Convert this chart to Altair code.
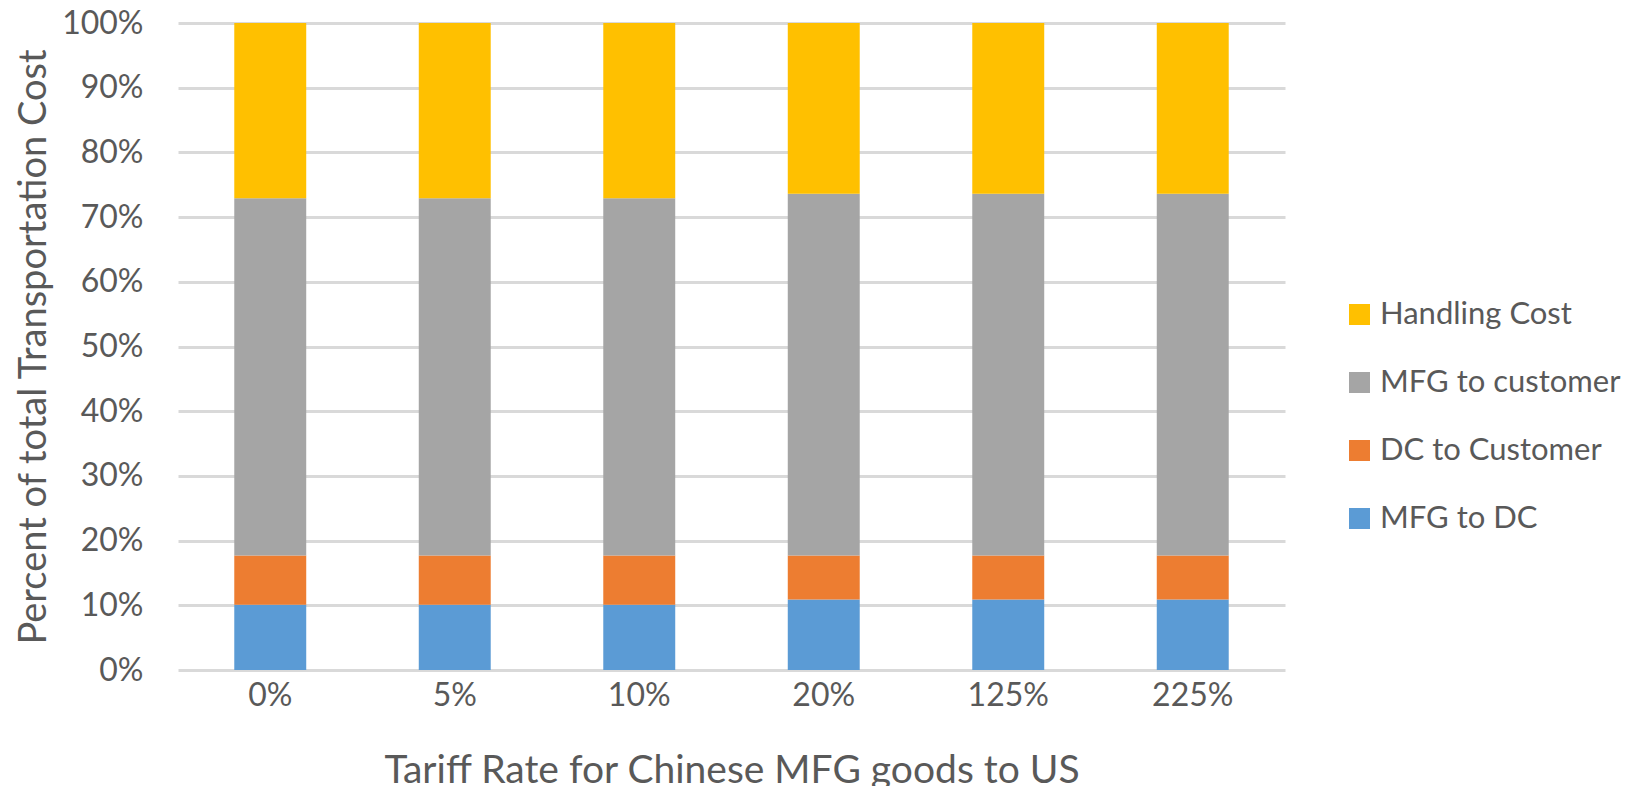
import altair as alt
import pandas as pd

tariffs = ["0%", "5%", "10%", "20%", "125%", "225%"]
series = ["Handling Cost", "MFG to customer", "DC to Customer", "MFG to DC"]
colors = ["#FFC000", "#A5A5A5", "#ED7D31", "#5B9BD5"]
stack_rank = {"MFG to DC": 0, "DC to Customer": 1, "MFG to customer": 2, "Handling Cost": 3}

mfg_to_dc = [10.1, 10.1, 10.1, 10.9, 10.9, 10.9]
dc_to_customer = [7.6, 7.6, 7.6, 6.8, 6.8, 6.8]
mfg_to_customer = [55.2, 55.2, 55.2, 55.9, 55.9, 55.9]
handling_cost = [27.1, 27.1, 27.1, 26.4, 26.4, 26.4]

values = {
    "MFG to DC": mfg_to_dc,
    "DC to Customer": dc_to_customer,
    "MFG to customer": mfg_to_customer,
    "Handling Cost": handling_cost,
}

rows = []
for s, vals in values.items():
    for t, v in zip(tariffs, vals):
        rows.append({"tariff": t, "series": s, "value": v, "rank": stack_rank[s]})
df = pd.DataFrame(rows)

FONT = "Lato"
TXT = "#595959"

chart = alt.Chart(df).mark_bar().encode(
    x=alt.X("tariff:N", sort=tariffs,
            scale=alt.Scale(paddingInner=0.61, paddingOuter=0.305),
            axis=alt.Axis(title="Tariff Rate for Chinese MFG goods to US",
                          labelAngle=0, labelFontSize=32, labelColor=TXT, labelFont=FONT,
                          labelPadding=10, titleFontSize=39, titleColor=TXT, titleFont=FONT,
                          titleFontWeight="normal", titlePadding=40, domain=False, ticks=False)),
    y=alt.Y("value:Q", stack="normalize",
            scale=alt.Scale(domain=[0, 1]),
            axis=alt.Axis(title="Percent of total Transportation Cost", format=".0%",
                          values=[i / 10 for i in range(11)],
                          labelFontSize=32, labelColor=TXT, labelFont=FONT, labelPadding=35,
                          titleFontSize=38, titleColor=TXT, titleFont=FONT,
                          titleFontWeight="normal", titlePadding=8,
                          domain=False, ticks=False, grid=True, gridColor="#D9D9D9", gridWidth=3)),
    color=alt.Color("series:N",
                    scale=alt.Scale(domain=series, range=colors),
                    legend=alt.Legend(title=None, orient="none", legendX=1166, legendY=276,
                                      symbolType="square", symbolSize=441, symbolStrokeWidth=0,
                                      labelFontSize=31, labelColor=TXT, labelFont=FONT,
                                      labelOffset=5, rowPadding=36, labelLimit=400)),
    order=alt.Order("rank:Q", sort="ascending"),
).properties(
    width=1107, height=647,
    autosize=alt.AutoSizeParams(type="none"),
    padding={"left": 170, "top": 15, "right": 350, "bottom": 116},
).configure(background="white").configure_view(stroke=None, strokeWidth=0)

chart.save("out.html", embed_options={"renderer": "svg", "actions": False})
